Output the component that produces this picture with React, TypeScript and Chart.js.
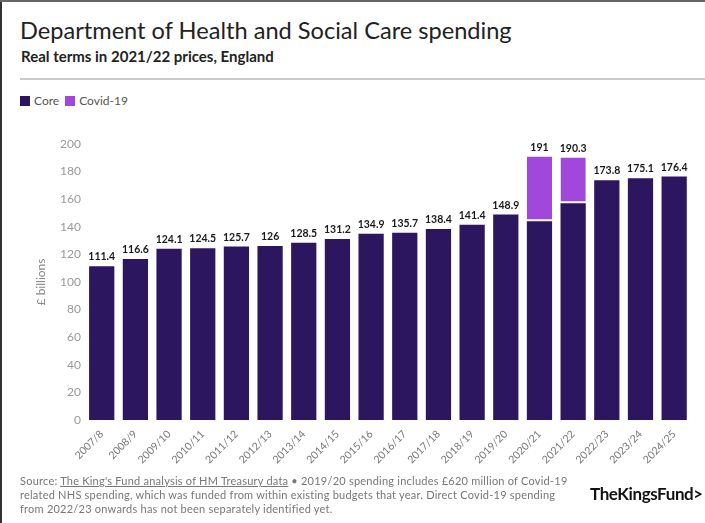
import React, { useEffect, useRef } from "react";
import { Chart, registerables } from "chart.js";

Chart.register(...registerables);

const categories = ["2007/8","2008/9","2009/10","2010/11","2011/12","2012/13","2013/14","2014/15","2015/16","2016/17","2017/18","2018/19","2019/20","2020/21","2021/22","2022/23","2023/24","2024/25"];
const coreValues = [111.4,116.6,124.1,124.5,125.7,126,128.5,131.2,134.9,135.7,138.4,141.4,148.9,144,157,173.8,175.1,176.4];
const covidValues = [0,0,0,0,0,0,0,0,0,0,0,0,0,47,33.3,0,0,0];
const totalLabels = ["111.4","116.6","124.1","124.5","125.7","126","128.5","131.2","134.9","135.7","138.4","141.4","148.9","191","190.3","173.8","175.1","176.4"];
const yTicks = [0,20,40,60,80,100,120,140,160,180,200];

const CORE = "#2d1660";
const COVID = "#9f48db";
const FONT = "Lato, 'Open Sans', sans-serif";

const totalsPlugin = {
  id: "totals",
  afterDatasetsDraw(chart: any) {
    const ctx = chart.ctx;
    const y = chart.scales.y;
    const x = chart.scales.x;
    ctx.save();
    ctx.font = `bold 10.5px ${FONT}`;
    ctx.fillStyle = "#1a1a1a";
    ctx.textAlign = "center";
    ctx.textBaseline = "bottom";
    categories.forEach((_, i) => {
      const total = coreValues[i] + covidValues[i];
      ctx.fillText(totalLabels[i], x.getPixelForValue(i), y.getPixelForValue(total) - 4);
    });
    ctx.restore();
  },
};

export default function App() {
  const ref = useRef<HTMLCanvasElement>(null);
  useEffect(() => {
    document.body.style.margin = "0";
    const chart = new Chart(ref.current!, {
      type: "bar",
      data: {
        labels: categories,
        datasets: [
          {
            label: "Core",
            data: coreValues,
            backgroundColor: CORE,
            borderWidth: 0,
            categoryPercentage: 0.75,
            barPercentage: 1,
          },
          {
            label: "Covid-19",
            data: covidValues,
            backgroundColor: COVID,
            borderColor: "#ffffff",
            borderWidth: { top: 0, left: 0, right: 0, bottom: 2 },
            borderSkipped: false,
            categoryPercentage: 0.75,
            barPercentage: 1,
          },
        ],
      },
      options: {
        animation: false,
        responsive: false,
        maintainAspectRatio: false,
        layout: { padding: { left: 26, right: 9, top: 16, bottom: 3 } },
        plugins: { legend: { display: false }, tooltip: { enabled: false } },
        scales: {
          x: {
            stacked: true,
            grid: { display: false, drawTicks: false },
            border: { display: false },
            afterFit(scale: any) {
              scale.paddingLeft = 0;
              scale.paddingRight = 0;
            },
            ticks: {
              color: "#777",
              font: { family: FONT, size: 10.5 },
              minRotation: 45,
              maxRotation: 45,
              padding: 8,
            },
          },
          y: {
            stacked: true,
            min: 0,
            max: 200,
            grid: { display: false, drawTicks: false },
            border: { display: false },
            afterBuildTicks(axis: any) {
              axis.ticks = yTicks.map((v) => ({ value: v }));
            },
            ticks: { color: "#999", font: { family: FONT, size: 12 }, padding: 4 },
            title: {
              display: true,
              text: "£ billions",
              color: "#888",
              font: { family: FONT, size: 12 },
              padding: 7.8,
            },
          },
        },
      },
      plugins: [totalsPlugin],
    });
    return () => chart.destroy();
  }, []);

  return (
    <div style={{ position: "relative", width: 705, height: 523, background: "#fff", fontFamily: FONT, overflow: "hidden" }}>
      <div style={{ position: "absolute", left: 0, top: 0, width: 2, height: 523, background: "#333" }} />
      <div style={{ position: "absolute", left: 0, top: 0, width: 705, height: 2, background: "#666" }} />
      <div style={{ position: "absolute", left: 20, top: 16, fontSize: 23.6, color: "#222", fontWeight: 400, whiteSpace: "nowrap" }}>
        Department of Health and Social Care spending
      </div>
      <div style={{ position: "absolute", left: 21, top: 47, fontSize: 15, color: "#222", fontWeight: 700, whiteSpace: "nowrap" }}>
        Real terms in 2021/22 prices, England
      </div>
      <div style={{ position: "absolute", left: 20, top: 78, width: 685, height: 2, background: "#ccc" }} />
      <div style={{ position: "absolute", left: 20, top: 93, fontSize: 12, color: "#555", display: "flex", alignItems: "center", whiteSpace: "nowrap" }}>
        <span style={{ display: "inline-block", width: 10, height: 10, background: CORE, marginRight: 4 }} />
        <span style={{ marginRight: 6 }}>Core</span>
        <span style={{ display: "inline-block", width: 10, height: 10, background: COVID, marginRight: 4 }} />
        <span>Covid-19</span>
      </div>
      <canvas ref={ref} width={700} height={349} style={{ position: "absolute", left: 0, top: 128, width: 700, height: 349 }} />
      <div style={{ position: "absolute", left: 20, top: 474, fontSize: 11, lineHeight: "14px", letterSpacing: 0.23, color: "#777", whiteSpace: "nowrap" }}>
        Source: <span style={{ textDecoration: "underline" }}>The King's Fund analysis of HM Treasury data</span> • 2019/20 spending includes £620 million of Covid-19
        <br />
        related NHS spending, which was funded from within existing budgets that year. Direct Covid-19 spending
        <br />
        from 2022/23 onwards has not been separately identified yet.
      </div>
      <div style={{ position: "absolute", left: 590, top: 483, fontSize: 17, fontWeight: 700, color: "#111", letterSpacing: -0.4, whiteSpace: "nowrap" }}>
        TheKingsFund&gt;
      </div>
    </div>
  );
}
